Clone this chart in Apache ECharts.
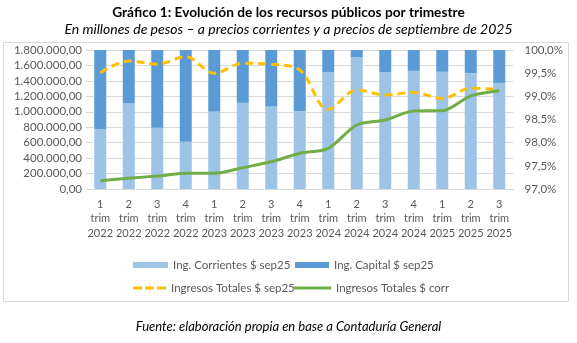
<!DOCTYPE html>
<html><head><meta charset="utf-8">
<script src="https://cdn.jsdelivr.net/npm/echarts@6/dist/echarts.min.js"></script>
<style>html,body{margin:0;padding:0;background:#fff}#c{width:577px;height:343px}</style>
</head><body><div id="c"></div>
<script>
const categories = ["1\ntrim\n2022","2\ntrim\n2022","3\ntrim\n2022","4\ntrim\n2022","1\ntrim\n2023","2\ntrim\n2023","3\ntrim\n2023","4\ntrim\n2023","1\ntrim\n2024","2\ntrim\n2024","3\ntrim\n2024","4\ntrim\n2024","1\ntrim\n2025","2\ntrim\n2025","3\ntrim\n2025"];
const corrientesShare = [98.29,98.85,98.32,98.02,98.67,98.86,98.78,98.68,99.52,99.84,99.52,99.55,99.53,99.50,99.29];
const capitalShare = [1.71,1.15,1.68,1.98,1.33,1.14,1.22,1.32,0.48,0.16,0.48,0.45,0.47,0.50,0.71];
const totalSep25 = [1506000,1658000,1617000,1713000,1498000,1628000,1615000,1541000,1030000,1282000,1217000,1252000,1172000,1304000,1291000];
const totalCorr = [108000,140000,168000,203000,203000,276000,352000,462000,527000,829000,894000,1010000,1014000,1206000,1273000];
const leftTicks = {min:0,max:1800000,interval:200000};
const rightTicks = {min:97,max:100,interval:0.5};

const FONT = 'Lato';
const TXT = '#595959';
function fmtLeft(v){
  const s = Math.round(v).toString().replace(/\B(?=(\d{3})+(?!\d))/g,'.');
  return s + ',00';
}
function fmtRight(v){ return v.toFixed(1).replace('.',',') + '%'; }

const DASH_ICON = 'path://M0,0H9V3H0Z M12,0H21V3H12Z M24,0H33V3H24Z';
const chart = echarts.init(document.getElementById('c'), null, {renderer:'canvas'});
const legendBase = {itemGap:5, textStyle:{color:TXT,fontFamily:FONT,fontSize:11.5}, selectedMode:false};
chart.setOption({
  animation:false,
  textStyle:{fontFamily:FONT},
  title:[
    {text:'Gráfico 1: Evolución de los recursos públicos por trimestre', left:'center', top:1,
     textStyle:{fontFamily:FONT,fontSize:13.7,fontWeight:'bold',color:'#000'}},
    {text:'En millones de pesos – a precios corrientes y a precios de septiembre de 2025', left:'center', top:17,
     textStyle:{fontFamily:FONT,fontSize:14,fontStyle:'italic',fontWeight:'normal',color:'#000'}},
    {text:'Fuente: elaboración propia en base a Contaduría General', left:'center', top:315,
     textStyle:{fontFamily:FONT,fontSize:13,fontStyle:'italic',fontWeight:'normal',color:'#000'}}
  ],
  graphic:[{type:'rect', shape:{x:3.5,y:42.5,width:565,height:259}, style:{fill:'none',stroke:'#D9D9D9',lineWidth:1}, silent:true, z:-1}],
  grid:{left:86, top:50, width:427.5, height:139, containLabel:false},
  legend:[
    Object.assign({}, legendBase, {left:128, top:254, data:[{name:'Ing. Corrientes $ sep25', icon:'rect'}], itemWidth:35, itemHeight:6}),
    Object.assign({}, legendBase, {left:290, top:254, data:[{name:'Ing. Capital $ sep25', icon:'rect'}], itemWidth:34, itemHeight:6}),
    Object.assign({}, legendBase, {left:128, top:277, data:[{name:'Ingresos Totales $ sep25', icon:DASH_ICON}], itemWidth:33, itemHeight:3, itemStyle:{color:'#FFC000'}}),
    Object.assign({}, legendBase, {left:288, top:277, data:[{name:'Ingresos Totales $ corr', icon:'rect'}], itemWidth:38, itemHeight:3, itemStyle:{color:'#70AD47'}})
  ],
  xAxis:{type:'category', data:categories,
    axisLine:{show:true, lineStyle:{color:'#D9D9D9'}}, axisTick:{show:false},
    axisLabel:{color:TXT, fontFamily:FONT, fontSize:11, lineHeight:14.5, margin:8, interval:0}},
  yAxis:[
    {type:'value', min:leftTicks.min, max:leftTicks.max, interval:leftTicks.interval,
     axisLine:{show:false}, axisTick:{show:false},
     splitLine:{lineStyle:{color:'#D9D9D9', width:1}},
     axisLabel:{color:TXT, fontFamily:FONT, fontSize:11.5, margin:4, formatter:fmtLeft}},
    {type:'value', min:rightTicks.min, max:rightTicks.max, interval:rightTicks.interval, position:'right',
     axisLine:{show:false}, axisTick:{show:false}, splitLine:{show:false},
     axisLabel:{color:TXT, fontFamily:FONT, fontSize:11.5, margin:11, formatter:fmtRight}}
  ],
  series:[
    {name:'Ing. Corrientes $ sep25', type:'bar', yAxisIndex:1, stack:'s', data:corrientesShare, barWidth:12,
     itemStyle:{color:'#9DC3E6'}},
    {name:'Ing. Capital $ sep25', type:'bar', yAxisIndex:1, stack:'s', data:capitalShare, barWidth:12,
     itemStyle:{color:'#5B9BD5'}},
    {name:'Ingresos Totales $ sep25', type:'line', yAxisIndex:0, data:totalSep25, smooth:0.35, symbol:'none',
     lineStyle:{color:'#FFC000', width:3, type:[8,5]}, itemStyle:{color:'#FFC000'}, z:3},
    {name:'Ingresos Totales $ corr', type:'line', yAxisIndex:0, data:totalCorr, smooth:0.3, symbol:'none',
     lineStyle:{color:'#70AD47', width:3}, itemStyle:{color:'#70AD47'}, z:4}
  ]
});
</script></body></html>
